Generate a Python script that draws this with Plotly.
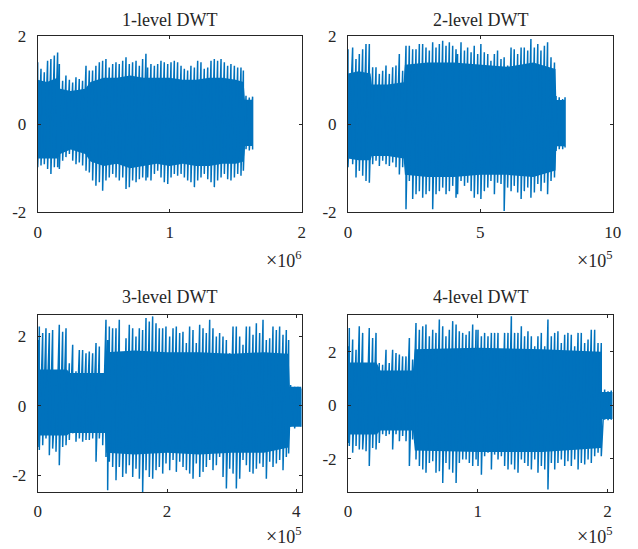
import plotly.graph_objects as go

# ---------------- data ----------------
titles = ["1-level DWT", "2-level DWT", "3-level DWT", "4-level DWT"]
x_exponents = [6, 5, 5, 5]
x_ranges = [[0, 2], [0, 10], [0, 4.08], [0, 2.04]]
x_ticks = [[0, 1, 2], [0, 5, 10], [0, 2, 4], [0, 1, 2]]
y_ranges = [[-2, 2], [-2, 2], [-2.48, 2.62], [-3.25, 3.38]]
y_ticks = [[-2, 0, 2], [-2, 0, 2], [-2, 0, 2], [-2, 0, 2]]
y_ticktext = [["-2", "0", "2"]] * 4

# panel 1 (x in units of 1e6)
p1_x = [0.0, 0.025, 0.05, 0.075, 0.10, 0.126, 0.151, 0.164, 0.189, 0.214, 0.24, 0.265, 0.29, 0.315,
        0.34, 0.366, 0.391, 0.416, 0.441, 0.467, 0.492, 0.517, 0.542, 0.568, 0.593, 0.618, 0.644,
        0.669, 0.694, 0.719, 0.745, 0.77, 0.795, 0.82, 0.833, 0.858, 0.884, 0.909, 0.934, 0.959,
        0.985, 1.01, 1.035, 1.06, 1.086, 1.111, 1.136, 1.161, 1.187, 1.212, 1.237, 1.262, 1.288,
        1.313, 1.338, 1.363, 1.389, 1.414, 1.439, 1.464, 1.49, 1.515, 1.54, 1.558, 1.578, 1.603, 1.628]
p1_hi = [1.40, 1.25, 1.17, 1.43, 1.47, 1.55, 1.62, 1.36, 0.98, 1.10, 1.00, 0.94, 1.06, 1.02, 0.98,
         1.32, 1.21, 1.21, 1.32, 1.40, 1.43, 1.47, 1.28, 1.36, 1.40, 1.36, 1.43, 1.51, 1.36, 1.40,
         1.43, 1.32, 1.47, 1.59, 1.28, 1.36, 1.32, 1.36, 1.43, 1.40, 1.36, 1.40, 1.43, 1.40, 1.32,
         1.25, 1.21, 1.32, 1.28, 1.43, 1.40, 1.25, 1.28, 1.43, 1.47, 1.43, 1.47, 1.40, 1.32, 1.36,
         1.32, 1.28, 1.28, 1.21, 0.64, 0.60, 0.62]
p1_lo = [-0.98, -0.94, -0.91, -1.02, -1.13, -0.98, -0.98, -1.02, -0.83, -0.75, -0.68, -0.83, -0.91,
         -0.87, -0.94, -1.06, -1.10, -1.28, -1.40, -1.32, -1.51, -1.28, -1.21, -1.13, -1.21, -1.28,
         -1.21, -1.47, -1.43, -1.28, -1.32, -1.25, -1.21, -1.28, -1.21, -1.28, -1.13, -1.06, -1.21,
         -1.32, -1.36, -1.21, -1.13, -1.17, -1.13, -1.21, -1.28, -1.32, -1.43, -1.28, -1.21, -1.13,
         -1.25, -1.32, -1.43, -1.28, -1.21, -1.13, -1.25, -1.28, -1.21, -1.13, -1.17, -1.06, -0.57,
         -0.60, -0.58]
p1_core_x = [0.0, 0.07, 0.15, 0.17, 0.25, 0.36, 0.40, 0.5, 0.6, 0.7, 0.8, 0.9, 1.0, 1.1, 1.2, 1.3,
             1.4, 1.5, 1.56, 1.57, 1.63]
p1_core_hi = [1.00, 0.95, 1.05, 0.80, 0.75, 0.80, 0.95, 1.05, 1.05, 1.10, 1.05, 1.05, 1.05, 1.00,
              1.00, 1.05, 1.05, 1.00, 0.95, 0.55, 0.55]
p1_core_lo = [-0.78, -0.78, -0.78, -0.68, -0.58, -0.68, -0.85, -0.95, -0.90, -1.00, -0.95, -0.90,
              -0.95, -0.90, -0.95, -0.95, -0.90, -0.90, -0.85, -0.50, -0.50]

# panel 2 (x in units of 1e5)
p2_x = [0.0, 0.176, 0.302, 0.428, 0.554, 0.68, 0.806, 0.932, 1.058, 1.184, 1.31, 1.436, 1.562, 1.688,
        1.813, 1.939, 2.065, 2.191, 2.317, 2.443, 2.569, 2.695, 2.821, 2.947, 3.073, 3.199, 3.325,
        3.451, 3.577, 3.703, 3.829, 3.955, 4.081, 4.14, 4.27, 4.40, 4.52, 4.65, 4.77, 4.90, 5.02,
        5.15, 5.28, 5.40, 5.53, 5.65, 5.78, 5.90, 6.03, 6.16, 6.28, 6.41, 6.54, 6.66, 6.79, 6.91,
        7.04, 7.17, 7.29, 7.42, 7.54, 7.67, 7.80, 7.86, 7.98, 8.11, 8.20]
p2_hi = [1.70, 1.74, 1.48, 1.59, 1.70, 1.82, 1.82, 1.29, 1.29, 1.14, 1.21, 1.33, 1.14, 1.29, 1.33,
         1.59, 1.21, 1.78, 1.78, 1.70, 1.70, 1.82, 1.82, 1.74, 1.67, 1.86, 1.74, 1.82, 1.89, 1.78,
         1.86, 1.78, 1.70,
         1.59, 1.86, 1.67, 1.74, 1.63, 1.78, 1.59, 1.82, 1.63, 1.59, 1.44, 1.59, 1.67, 1.48, 1.52,
         1.33, 1.74, 1.70, 1.59, 1.74, 1.74, 1.67, 1.93, 1.74, 1.82, 1.67, 1.78, 1.86, 1.52, 1.40,
         0.64, 0.61, 0.57, 0.61]
p2_lo = [-0.98, -0.91, -1.21, -1.06, -1.17, -1.29, -1.33, -0.91, -0.83, -0.95, -0.83, -0.91, -0.95,
         -0.87, -0.98, -1.14, -0.98, -1.93, -1.29, -1.70, -1.59, -1.52, -1.67, -1.59, -1.52, -1.93,
         -1.59, -1.52, -1.44, -1.59, -1.52, -1.40, -1.67,
         -1.59, -1.29, -1.40, -1.33, -1.52, -1.67, -1.59, -1.70, -1.52, -1.44, -1.29, -1.59, -1.33,
         -1.36, -1.97, -1.44, -1.52, -1.40, -1.55, -1.70, -1.52, -1.44, -1.67, -1.55, -1.36, -1.52,
         -1.33, -1.59, -1.29, -1.21, -0.61, -0.57, -0.57, -0.53]
p2_core_x = [0.0, 0.4, 0.85, 0.9, 1.5, 2.1, 2.15, 3.0, 4.0, 5.0, 6.0, 7.0, 7.84, 7.87, 8.2]
p2_core_hi = [1.15, 1.20, 1.15, 0.90, 0.90, 0.95, 1.35, 1.40, 1.40, 1.35, 1.30, 1.40, 1.25, 0.55, 0.55]
p2_core_lo = [-0.78, -0.82, -0.82, -0.72, -0.72, -0.78, -1.15, -1.20, -1.20, -1.15, -1.15, -1.20,
              -1.05, -0.50, -0.50]

# panel 3 (x in units of 1e5)
p3_x = [0.0, 0.025, 0.077, 0.128, 0.18, 0.231, 0.283, 0.334, 0.386, 0.438, 0.489, 0.541, 0.592,
        0.644, 0.695, 0.747, 0.798, 0.85, 0.902, 0.953, 1.005, 1.056, 1.082, 1.108, 1.159, 1.211,
        1.262, 1.314, 1.366, 1.417, 1.469, 1.52, 1.572, 1.623, 1.675, 1.726, 1.778, 1.83, 1.881,
        1.933, 1.984,
        2.041, 2.093, 2.144, 2.196, 2.247, 2.299, 2.35, 2.402, 2.453, 2.505, 2.557, 2.608, 2.66,
        2.711, 2.763, 2.814, 2.866, 2.918, 2.969, 3.021, 3.072, 3.124, 3.175, 3.227, 3.278, 3.33,
        3.382, 3.433, 3.485, 3.536, 3.588, 3.639, 3.691, 3.742, 3.794, 3.845, 3.881, 3.912, 3.974,
        4.025, 4.077]
p3_hi = [1.90, 2.29, 2.10, 2.24, 2.10, 2.19, 0.60, 2.34, 2.14, 2.24, 1.23, 1.76, 1.00, 1.61, 1.61,
         1.52, 1.57, 1.52, 1.81, 1.71, 0.90, 2.48, 1.90, 2.29, 2.24, 2.24, 2.48, 1.13, 1.95, 2.34,
         2.24, 2.00, 2.24, 2.19, 2.53, 2.43, 2.58, 2.38, 2.24, 2.24, 2.29,
         2.00, 2.24, 2.29, 2.10, 2.14, 1.81, 2.29, 2.19, 1.81, 2.34, 2.24, 2.10, 2.48, 2.24, 2.00,
         2.10, 2.00, 1.90, 1.52, 2.29, 2.29, 2.00, 1.76, 2.29, 2.29, 2.05, 2.38, 2.10, 2.48, 1.90,
         1.95, 2.29, 2.19, 2.29, 2.05, 2.19, 1.90, 0.60, 0.55, 0.55, 0.50]
p3_lo = [-1.18, -1.27, -1.13, -0.94, -1.42, -1.23, -1.32, -1.71, -1.18, -1.13, -0.98, -0.79, -1.03,
         -0.94, -1.03, -0.98, -0.98, -0.94, -1.61, -0.94, -1.13, -1.47, -2.43, -1.61, -1.76, -2.14,
         -1.76, -2.05, -1.95, -1.71, -2.05, -1.81, -2.10, -2.48, -1.85, -2.05, -2.10, -1.85, -1.76,
         -1.95, -1.66,
         -1.85, -1.56, -1.90, -1.61, -1.76, -1.85, -1.95, -2.10, -1.66, -2.05, -1.90, -1.76, -1.56,
         -1.85, -1.71, -1.47, -2.05, -2.38, -1.81, -1.95, -2.38, -2.10, -1.56, -1.71, -1.90, -1.95,
         -1.81, -1.66, -1.76, -2.10, -1.61, -1.76, -1.66, -1.56, -1.85, -1.47, -1.37, -0.60, -0.65,
         -0.55, -0.60]
p3_core_x = [0.0, 0.45, 0.5, 1.04, 1.06, 1.5, 2.0, 2.5, 3.0, 3.5, 3.88, 3.90, 4.08]
p3_core_hi = [1.05, 1.05, 0.95, 0.95, 1.55, 1.60, 1.55, 1.55, 1.50, 1.55, 1.50, 0.55, 0.55]
p3_core_lo = [-0.85, -0.85, -0.78, -0.78, -1.35, -1.40, -1.35, -1.40, -1.35, -1.35, -1.20, -0.60, -0.60]

# panel 4 (x in units of 1e5)
p4_x = [0.0, 0.010, 0.036, 0.062, 0.087, 0.113, 0.139, 0.164, 0.19, 0.216, 0.241, 0.267, 0.293,
        0.318, 0.344, 0.37, 0.396, 0.421, 0.447, 0.473, 0.498, 0.524, 0.55, 0.576, 0.601, 0.627,
        0.653, 0.678, 0.704, 0.73, 0.755, 0.781, 0.807, 0.833, 0.858, 0.884, 0.91, 0.935, 0.961,
        0.987,
        1.002, 1.028, 1.053, 1.079, 1.105, 1.13, 1.156, 1.182, 1.207, 1.233, 1.259, 1.284, 1.31,
        1.336, 1.361, 1.387, 1.413, 1.439, 1.464, 1.49, 1.516, 1.541, 1.567, 1.593, 1.618, 1.644,
        1.67, 1.695, 1.721, 1.747, 1.773, 1.798, 1.824, 1.85, 1.875, 1.901, 1.927, 1.952, 1.978,
        2.004, 2.029]
p4_hi = [2.21, 2.89, 2.46, 2.08, 2.96, 2.71, 0.59, 2.89, 2.52, 2.71, 1.58, 1.52, 2.08, 1.58, 2.08,
         1.96, 1.90, 1.83, 1.83, 2.52, 1.71, 3.08, 2.83, 2.96, 3.02, 2.58, 2.83, 2.71, 3.21, 2.96,
         2.58, 2.83, 3.15, 3.02, 2.77, 2.71, 2.64, 2.77, 3.02, 2.83,
         2.83, 2.58, 2.71, 2.58, 2.71, 2.71, 2.71, 1.83, 2.71, 2.71, 3.33, 2.71, 2.71, 2.96, 2.58,
         2.77, 2.58, 2.21, 2.58, 2.71, 2.21, 3.21, 2.58, 2.71, 2.77, 2.33, 2.64, 2.71, 2.64, 2.21,
         2.71, 2.71, 2.33, 2.46, 2.83, 2.83, 2.33, 2.33, 0.59, 0.52, 0.55]
p4_lo = [-1.41, -1.53, -1.78, -1.53, -1.66, -1.66, -1.72, -2.28, -1.60, -1.66, -1.41, -1.09, -1.15,
         -1.09, -1.66, -1.09, -1.35, -1.15, -1.35, -2.28, -1.28, -2.03, -2.28, -2.41, -2.53, -2.16,
         -2.10, -2.53, -2.47, -2.91, -2.16, -2.41, -2.53, -2.91, -2.16, -2.03, -2.03, -2.16, -2.28,
         -2.03,
         -2.28, -2.60, -1.91, -1.78, -2.41, -1.85, -2.03, -1.91, -2.28, -2.41, -2.22, -2.41, -2.53,
         -2.03, -2.16, -2.28, -2.41, -2.03, -2.53, -2.28, -2.41, -3.16, -2.16, -2.41, -2.16, -2.03,
         -2.28, -2.10, -2.28, -2.03, -2.41, -2.16, -2.22, -2.03, -2.16, -1.91, -1.78, -1.91, -0.54,
         -0.56, -0.54]
p4_core_x = [0.0, 0.22, 0.25, 0.50, 0.515, 1.0, 1.5, 1.95, 1.957, 2.04]
p4_core_hi = [1.60, 1.60, 1.30, 1.30, 2.10, 2.15, 2.10, 2.00, 0.50, 0.50]
p4_core_lo = [-1.10, -1.10, -0.95, -0.95, -1.70, -1.75, -1.75, -1.60, -0.52, -0.52]

# ---------------- figure ----------------
W, H = 638, 549          # browser window
OFF = 8                  # default page margin of the html body
FW, FH = W - OFF, H - OFF
LINE = "#0072BD"
TXT = "#262626"
FONT = "Liberation Serif, Times New Roman, serif"


def px(xp):
    return (xp - OFF) / FW


def py(yp):
    return 1 - (yp - OFF) / FH


panels = [
    (p1_x, p1_hi, p1_lo, p1_core_x, p1_core_hi, p1_core_lo),
    (p2_x, p2_hi, p2_lo, p2_core_x, p2_core_hi, p2_core_lo),
    (p3_x, p3_hi, p3_lo, p3_core_x, p3_core_hi, p3_core_lo),
    (p4_x, p4_hi, p4_lo, p4_core_x, p4_core_hi, p4_core_lo),
]
# plot-area boxes in window pixels: (left, right, top, bottom)
boxes = [(37.7, 301.7, 35.7, 212.3), (348, 612.7, 36, 212.3),
         (37.7, 301.5, 315, 492), (348, 612.7, 315, 492)]

fig = go.Figure()
for i, (xs, hi, lo, cx, chi, clo) in enumerate(panels):
    n = i + 1
    xa = "x" if n == 1 else f"x{n}"
    ya = "y" if n == 1 else f"y{n}"
    # solid core of the signal
    fig.add_trace(go.Scatter(
        x=list(cx) + list(cx)[::-1], y=list(chi) + list(clo)[::-1],
        fill="toself", fillcolor=LINE, line=dict(width=0), mode="lines",
        hoverinfo="skip", showlegend=False, xaxis=xa, yaxis=ya))
    # oscillating signal reaching its peaks
    X, Y = [], []
    for xv, h, l in zip(xs, hi, lo):
        X += [xv, xv]
        Y += [h, l]
    fig.add_trace(go.Scatter(
        x=X, y=Y, mode="lines", line=dict(color=LINE, width=1.5),
        showlegend=False, xaxis=xa, yaxis=ya))

layout = dict(width=FW, height=FH, margin=dict(l=0, r=0, t=0, b=0, autoexpand=False),
              paper_bgcolor="white", plot_bgcolor="white",
              font=dict(family=FONT, color=TXT, size=17), showlegend=False)
annotations = []
for i, (l, r, t, b) in enumerate(boxes):
    n = i + 1
    kx = "xaxis" if n == 1 else f"xaxis{n}"
    ky = "yaxis" if n == 1 else f"yaxis{n}"
    ya = "y" if n == 1 else f"y{n}"
    xa = "x" if n == 1 else f"x{n}"
    common = dict(showline=True, linecolor=TXT, linewidth=1, mirror="ticks",
                  ticks="inside", ticklen=3, tickcolor=TXT, tickwidth=1,
                  showgrid=False, zeroline=False, fixedrange=True, automargin=False,
                  tickfont=dict(family=FONT, size=17, color=TXT))
    layout[kx] = dict(common, domain=[px(l), px(r)], range=x_ranges[i],
                      tickvals=x_ticks[i], ticktext=[str(v) for v in x_ticks[i]],
                      anchor=ya, ticklabelstandoff=4)
    layout[ky] = dict(common, domain=[py(b), py(t)], range=y_ranges[i],
                      tickvals=y_ticks[i], ticktext=y_ticktext[i],
                      anchor=xa, ticklabelstandoff=7)
    top_title = 20 if i < 2 else 297
    annotations.append(dict(text=titles[i], x=px((l + r) / 2), y=py(top_title),
                            xref="paper", yref="paper", showarrow=False, borderpad=0,
                            xanchor="center", yanchor="middle",
                            font=dict(family=FONT, size=18, color=TXT)))
    exp_y = 259 if i < 2 else 535
    annotations.append(dict(text=f"<span style='font-size:20px'>×</span>10<sup>{x_exponents[i]}</sup>",
                            x=px(r + 1), y=py(exp_y), xref="paper", yref="paper",
                            showarrow=False, xanchor="right", yanchor="middle", borderpad=0,
                            font=dict(family=FONT, size=18, color=TXT)))
layout["annotations"] = annotations
fig.update_layout(**layout)
fig.write_html("out.html")
